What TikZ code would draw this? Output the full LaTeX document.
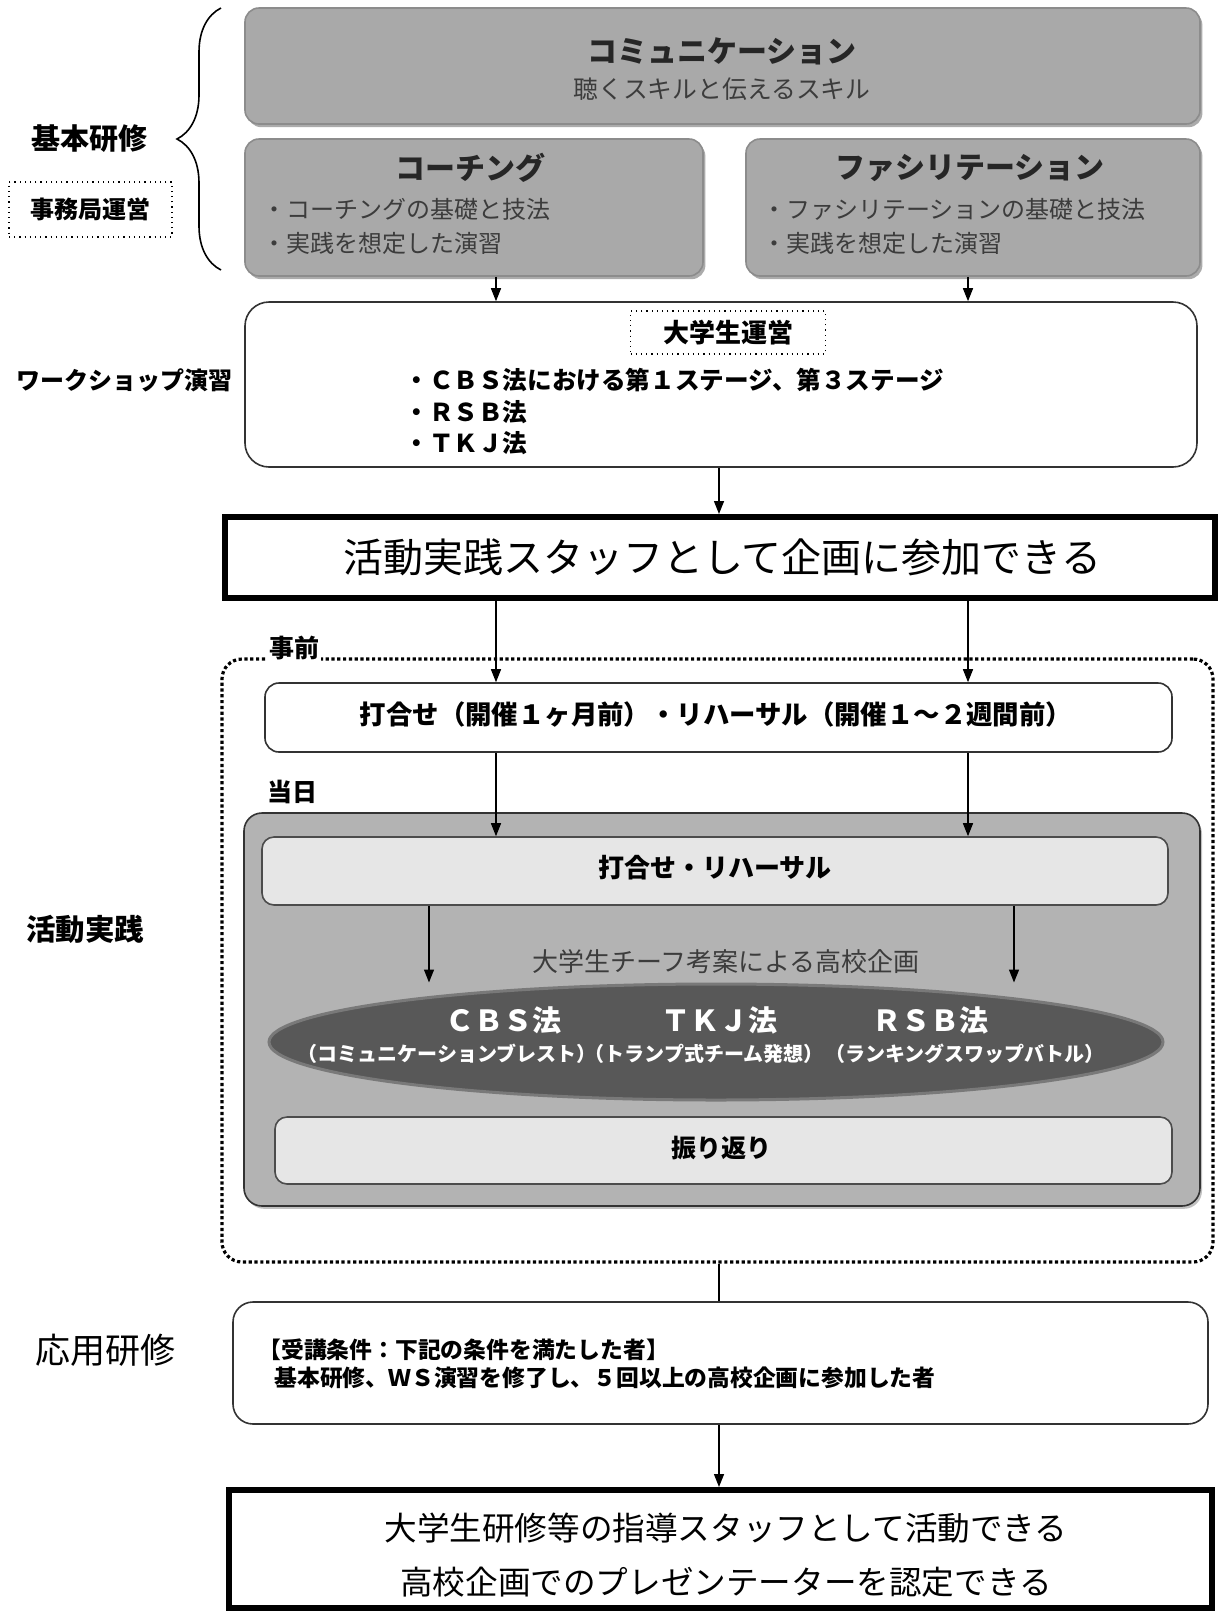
\documentclass[tikz,border=0pt]{standalone}
\usepackage{fontspec}
\setmainfont{Noto Sans CJK JP}
\usetikzlibrary{arrows.meta,shapes.geometric,shadows,decorations.pathreplacing,calc}
\definecolor{topgray}{HTML}{A9A9A9}
\definecolor{daygray}{HTML}{B3B3B3}
\definecolor{lightbox}{HTML}{E6E6E6}
\definecolor{ellgray}{HTML}{585858}
\definecolor{txtgray}{HTML}{3C3C3C}
\newcommand\fsz[1]{\fontsize{#1}{#1}\selectfont}
\begin{document}
\begin{tikzpicture}[x=0.5pt,y=-0.5pt,
  box/.style={draw=black!80, line width=0.8pt, inner sep=0pt},
  graybox/.style={box, fill=topgray, draw=black!45, rounded corners=7pt,
    drop shadow={shadow xshift=1.2pt,shadow yshift=-1.6pt,fill=black!55,opacity=0.6}},
  arr/.style={-{Triangle[length=6.5pt,width=5pt]}, line width=0.7pt},
  lbl/.style={inner sep=0pt},
  dotbox/.style={draw, dotted, line width=0.6pt, inner sep=0pt}]
\useasboundingbox (0,0) rectangle (1218,1613);
\fill[white] (0,0) rectangle (1218,1613);

\coordinate (cA) at (496,0);
\coordinate (cB) at (968,0);
\coordinate (cC) at (719,0);
\coordinate (cE) at (429,0);
\coordinate (cF) at (1014,0);

% ---- basic training ----
\node[graybox, minimum width=477.5pt, minimum height=58pt] (comm) at (722.5,66) {};
\node[lbl, font=\fsz{15pt}\bfseries, text=black!85] (commT) at (722,51) {コミュニケーション};
\node[lbl, font=\fsz{12.4pt}, text=txtgray] (commS) at (722,89) {聴くスキルと伝えるスキル};

\node[graybox, minimum width=229pt, minimum height=68.5pt] (coach) at (474,207.5) {};
\node[lbl, font=\fsz{15pt}\bfseries, text=black!85] (coachT) at (470,168) {コーチング};
\node[lbl, anchor=west, font=\fsz{12pt}, text=txtgray] (coachB1) at (262,209) {・コーチングの基礎と技法};
\node[lbl, anchor=west, font=\fsz{12pt}, text=txtgray] (coachB2) at (262,243) {・実践を想定した演習};

\node[graybox, minimum width=227pt, minimum height=68.5pt] (facil) at (973,207.5) {};
\node[lbl, font=\fsz{15pt}\bfseries, text=black!85] (facilT) at (970,168) {ファシリテーション};
\node[lbl, anchor=west, font=\fsz{12pt}, text=txtgray] (facilB1) at (762,209) {・ファシリテーションの基礎と技法};
\node[lbl, anchor=west, font=\fsz{12pt}, text=txtgray] (facilB2) at (762,243) {・実践を想定した演習};

\draw[line width=0.8pt, decorate, decoration={brace, amplitude=22pt}] (221,270) -- (221,8);
\node[lbl, font=\fsz{14.5pt}\bfseries] (kihon) at (90,139) {基本研修};
\node[dotbox, minimum width=81.5pt, minimum height=27.5pt, font=\fsz{12pt}\bfseries] (jimu) at (90.5,209.5) {事務局運営};

% ---- workshop ----
\node[box, rounded corners=12pt, minimum width=476pt, minimum height=82.5pt] (ws) at (721,384.5) {};
\draw[arr] (coach.south -| cA) -- (ws.north -| cA);
\draw[arr] (facil.south -| cB) -- (ws.north -| cB);
\node[dotbox, minimum width=97.5pt, minimum height=21.5pt, font=\fsz{13pt}\bfseries] (uni) at (728,332.5) {大学生運営};
\node[lbl, anchor=west, font=\fsz{12.3pt}\bfseries] (ws1) at (404,380) {・ＣＢＳ法における第１ステージ、第３ステージ};
\node[lbl, anchor=west, font=\fsz{12.3pt}\bfseries] (ws2) at (404,412) {・ＲＳＢ法};
\node[lbl, anchor=west, font=\fsz{12.3pt}\bfseries] (ws3) at (404,443) {・ＴＫＪ法};
\node[lbl, font=\fsz{12pt}\bfseries] (wslabel) at (125,380) {ワークショップ演習};

% ---- staff box ----
\node[draw, line width=3pt, inner sep=0pt, minimum width=495pt, minimum height=40.5pt] (big) at (720,557.5) {};
\node[lbl, font=\fsz{20pt}] (bigT) at (722,557) {活動実践スタッフとして企画に参加できる};
\draw[arr] (ws.south -| cC) -- (big.north -| cC);

% ---- activity practice ----
\node[draw, line width=1.6pt, dash pattern=on 1.6pt off 1.3pt, rounded corners=10pt, inner sep=0pt,
  minimum width=495.5pt, minimum height=301.5pt] (outer) at (717.5,960.5) {};
\node[lbl, fill=white, inner sep=1pt, font=\fsz{12.5pt}\bfseries] (jizen) at (294,648) {事前};

\node[box, rounded corners=7pt, minimum width=453.5pt, minimum height=34.5pt] (pre) at (718.5,717.5) {};
\node[lbl, font=\fsz{13.2pt}\bfseries] (preT) at (716,715) {打合せ（開催１ヶ月前）・リハーサル（開催１～２週間前）};
\draw[arr] (big.south -| cA) -- (pre.north -| cA);
\draw[arr] (big.south -| cB) -- (pre.north -| cB);

\node[lbl, font=\fsz{12.5pt}\bfseries] (toujitsu) at (292,792) {当日};
\node[box, fill=daygray, rounded corners=9pt, minimum width=478pt, minimum height=196.5pt,
  drop shadow={shadow xshift=1pt,shadow yshift=-1.4pt,fill=black!40,opacity=0.6}] (day) at (722,1009.5) {};
\node[box, fill=lightbox, draw=black!70, rounded corners=6pt, minimum width=453pt, minimum height=34pt] (reh) at (715,871) {};
\node[lbl, font=\fsz{13pt}\bfseries] (rehT) at (715,868) {打合せ・リハーサル};
\draw[arr] (pre.south -| cA) -- (reh.north -| cA);
\draw[arr] (pre.south -| cB) -- (reh.north -| cB);

\node[lbl, font=\fsz{13pt}, text=txtgray] (team) at (726,962) {大学生チーフ考案による高校企画};
\node[ellipse, fill=ellgray, draw=ellgray!80, line width=1.5pt, inner sep=0pt,
  minimum width=447pt, minimum height=58pt] (ell) at (716,1042) {};
\draw[arr] (reh.south -| cE) -- (ell.north -| cE);
\draw[arr] (reh.south -| cF) -- (ell.north -| cF);
\node[lbl, font=\fsz{14.5pt}\bfseries, text=white] (cbs) at (503,1020) {ＣＢＳ法};
\node[lbl, font=\fsz{14.5pt}\bfseries, text=white] (tkj) at (719,1020) {ＴＫＪ法};
\node[lbl, font=\fsz{14.5pt}\bfseries, text=white] (rsb) at (930,1020) {ＲＳＢ法};
\node[lbl, font=\fsz{10pt}\bfseries, text=white] (cbsS) at (447,1054) {（コミュニケーションブレスト）};
\node[lbl, font=\fsz{10pt}\bfseries, text=white] (tkjS) at (704,1054) {（トランプ式チーム発想）};
\node[lbl, font=\fsz{10pt}\bfseries, text=white] (rsbS) at (965,1054) {（ランキングスワップバトル）};

\node[box, fill=lightbox, draw=black!70, rounded corners=6pt, minimum width=448.5pt, minimum height=33.5pt] (refl) at (723.5,1150.5) {};
\node[lbl, font=\fsz{12.5pt}\bfseries] (reflT) at (721,1148) {振り返り};

\node[lbl, font=\fsz{14.75pt}\bfseries] (katsudo) at (85,929) {活動実践};

% ---- applied training ----
\node[box, rounded corners=10pt, minimum width=487.5pt, minimum height=61pt] (app) at (720.5,1363) {};
\draw[line width=0.7pt] (outer.south -| cC) -- (app.north -| cC);
\node[lbl, anchor=west, font=\fsz{11.4pt}\bfseries] (app1) at (258,1350) {【受講条件：下記の条件を満たした者】};
\node[lbl, anchor=west, font=\fsz{11.4pt}\bfseries] (app2) at (274,1378) {基本研修、ＷＳ演習を修了し、５回以上の高校企画に参加した者};
\node[lbl, font=\fsz{17.5pt}] (ouyou) at (105,1350) {応用研修};

% ---- final ----
\node[draw, line width=3pt, inner sep=0pt, minimum width=491.5pt, minimum height=59pt] (final) at (720.5,1549) {};
\draw[arr] (app.south -| cC) -- (final.north -| cC);
\node[lbl, font=\fsz{16.3pt}] (final1) at (726,1528) {大学生研修等の指導スタッフとして活動できる};
\node[lbl, font=\fsz{16.3pt}] (final2) at (726,1582) {高校企画でのプレゼンテーターを認定できる};
\end{tikzpicture}
\end{document}
